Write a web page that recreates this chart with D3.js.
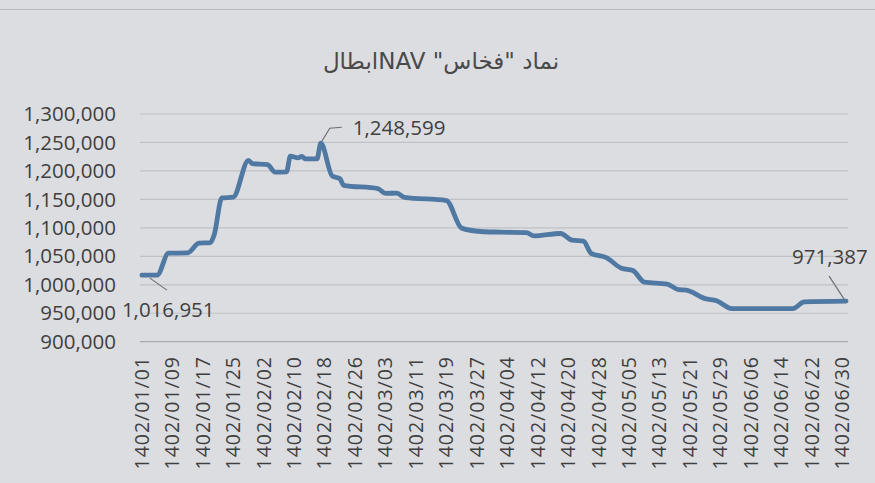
<!DOCTYPE html>
<html>
<head>
<meta charset="utf-8">
<script src="https://cdn.jsdelivr.net/npm/d3@7"></script>
<style>
  body { margin: 0; background: #dcdde1; }
  svg { display: block; }
</style>
</head>
<body>
<script>
// chart title
const title = 'نماد "فخاس" NAVابطال';

// y axis ticks
const yTicks = [900000, 950000, 1000000, 1050000, 1100000, 1150000, 1200000, 1250000, 1300000];

// x axis tick labels (every 8 days)
const xTickLabels = [
  '1402/01/01', '1402/01/09', '1402/01/17', '1402/01/25', '1402/02/02', '1402/02/10',
  '1402/02/18', '1402/02/26', '1402/03/03', '1402/03/11', '1402/03/19', '1402/03/27',
  '1402/04/04', '1402/04/12', '1402/04/20', '1402/04/28', '1402/05/05', '1402/05/13',
  '1402/05/21', '1402/05/29', '1402/06/06', '1402/06/14', '1402/06/22', '1402/06/30'
];

// dates where the NAV line changes course
const navDates = [
  '1402/01/01', '1402/01/05', '1402/01/08', '1402/01/13', '1402/01/16', '1402/01/19',
  '1402/01/20', '1402/01/22', '1402/01/25', '1402/01/29', '1402/01/30', '1402/02/03',
  '1402/02/05', '1402/02/08', '1402/02/09', '1402/02/11', '1402/02/12', '1402/02/13',
  '1402/02/16', '1402/02/17', '1402/02/20', '1402/02/22', '1402/02/23', '1402/03/01',
  '1402/03/03', '1402/03/06', '1402/03/08', '1402/03/19', '1402/03/23', '1402/03/28',
  '1402/04/02', '1402/04/09', '1402/04/11', '1402/04/18', '1402/04/21', '1402/04/24',
  '1402/04/26', '1402/04/30', '1402/05/03', '1402/05/06', '1402/05/09', '1402/05/15',
  '1402/05/18', '1402/05/20', '1402/05/25', '1402/05/28', '1402/06/01', '1402/06/17',
  '1402/06/20', '1402/06/31'
];
const navValues = [
  1016951, 1016951, 1055500, 1056000, 1073000, 1074000,
  1088000, 1152500, 1154000, 1218700, 1213000, 1211000,
  1197800, 1198500, 1225900, 1223000, 1225500, 1221000,
  1221000, 1248599, 1191000, 1186500, 1174800, 1169000,
  1160500, 1161000, 1153500, 1148000, 1099500, 1093600,
  1092500, 1091700, 1085900, 1090100, 1078400, 1076700,
  1055200, 1047700, 1029000, 1025000, 1004600, 1001300,
  991300, 990500, 975600, 972000, 958200, 958000,
  969900, 971387
];

// labelled points
const labelDates = ['1402/01/01', '1402/02/17', '1402/06/31'];
const labelValues = [1016951, 1248599, 971387];

// every day of the first six months (31 days each)
const categories = [];
for (let m = 1; m <= 6; m++) {
  for (let d = 1; d <= 31; d++) {
    categories.push('1402/' + String(m).padStart(2, '0') + '/' + String(d).padStart(2, '0'));
  }
}

const width = 875, height = 483;
const fmt = d3.format(',');

let svg = d3.select('body').append('svg')
  .attr('width', width)
  .attr('height', height);

svg.append('rect')
  .attr('width', width)
  .attr('height', height)
  .attr('fill', '#dcdde1');

// faint border of the printed chart
svg.append('line')
  .attr('x1', 0).attr('x2', width)
  .attr('y1', 9.5).attr('y2', 9.5)
  .attr('stroke', '#b9bbc0')
  .attr('stroke-width', 1);

let x = d3.scalePoint()
  .domain(categories)
  .range([140, 848])
  .padding(0.5);

let y = d3.scaleLinear()
  .domain([900000, 1300000])
  .range([341.7, 114]);

// gridlines
svg.append('g')
  .selectAll('line')
  .data(yTicks)
  .enter()
  .append('line')
  .attr('x1', 140)
  .attr('x2', 848)
  .attr('y1', (d) => y(d))
  .attr('y2', (d) => y(d))
  .attr('stroke', (d, i) => i === 0 ? '#a9abb0' : '#bfc1c5')
  .attr('stroke-width', 1.2);

// y axis labels
svg.append('g')
  .selectAll('text')
  .data(yTicks)
  .enter()
  .append('text')
  .attr('x', 116)
  .attr('y', (d) => y(d))
  .attr('dy', '0.35em')
  .attr('text-anchor', 'end')
  .attr('font-family', 'Open Sans, sans-serif')
  .attr('font-size', 20.5)
  .attr('fill', '#3f3f3f')
  .text((d) => fmt(d));

// x axis labels
svg.append('g')
  .selectAll('text')
  .data(xTickLabels)
  .enter()
  .append('text')
  .attr('transform', (d) => `translate(${x(d)},356) rotate(-90)`)
  .attr('dy', '0.35em')
  .attr('text-anchor', 'end')
  .attr('font-family', 'Open Sans, sans-serif')
  .attr('font-size', 19.5)
  .attr('letter-spacing', 1)
  .attr('fill', '#3f3f3f')
  .text((d) => d);

// NAV line
let points = navDates.map((d, i) => [x(d), y(navValues[i])]);

svg.append('path')
  .datum(points)
  .attr('fill', 'none')
  .attr('stroke', '#4f79a3')
  .attr('stroke-width', 4.8)
  .attr('stroke-linejoin', 'round')
  .attr('stroke-linecap', 'round')
  .attr('d', d3.line().curve(d3.curveMonotoneX));

// data labels with leader lines
const labelPos = [
  { dx: -20, dy: 35, anchor: 'start', lead: [[8, 3], [25, 15]] },
  { dx: 32, dy: -15, anchor: 'start', lead: [[1, -2], [9, -15], [21, -16]] },
  { dx: -54, dy: -44, anchor: 'start', lead: [[-2, -2], [-17, -25]] }
];

labelDates.forEach((d, i) => {
  let px = x(d), py = y(labelValues[i]);
  let p = labelPos[i];
  svg.append('path')
    .attr('d', d3.line()(p.lead.map((q) => [px + q[0], py + q[1]])))
    .attr('fill', 'none')
    .attr('stroke', '#6d6f72')
    .attr('stroke-width', 1.2);
  svg.append('text')
    .attr('x', px + p.dx)
    .attr('y', py + p.dy)
    .attr('dy', '0.35em')
    .attr('text-anchor', p.anchor)
    .attr('font-family', 'Open Sans, sans-serif')
    .attr('font-size', 20.5)
    .attr('fill', '#3f3f3f')
    .text(fmt(labelValues[i]));
});

// title
svg.append('text')
  .attr('x', 441)
  .attr('y', 61)
  .attr('dy', '0.35em')
  .attr('text-anchor', 'middle')
  .attr('direction', 'rtl')
  .attr('font-family', 'DejaVu Sans, Open Sans, sans-serif')
  .attr('font-size', 23)
  .attr('fill', '#4a4a4a')
  .text(title);
</script>
</body>
</html>
